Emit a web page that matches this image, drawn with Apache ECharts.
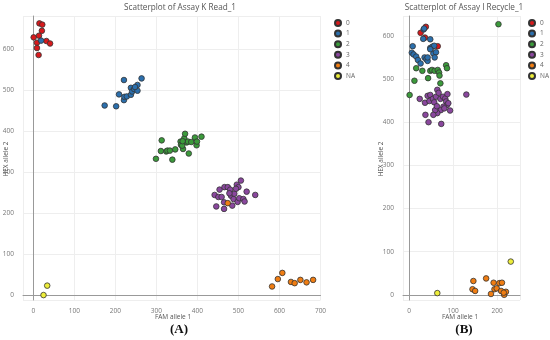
<!DOCTYPE html>
<html><head><meta charset="utf-8">
<script src="https://cdn.jsdelivr.net/npm/echarts@6/dist/echarts.min.js"></script>
<style>html,body{margin:0;padding:0;background:#fff}#c{width:550px;height:340px}</style>
</head><body><div id="c"></div>
<script>
var groups = ['0','1','2','3','4','NA'];
var colors = ['#d7191c','#2b6fad','#3b9a3b','#8a479e','#f07d12','#eded3a'];

var titleA = 'Scatterplot of Assay K Read_1';
var titleB = 'Scatterplot of Assay I Recycle_1';
var xName = 'FAM allele 1', yName = 'HEX allele 2';
var panelA = '(A)', panelB = '(B)';

var a0 = [[15,662],[22,659],[21,644],[1,628],[14,632],[9,615],[32,619],[41,613],[9,602],[13,585]];
var a1 = [[19,620],[174,462],[202,460],[209,489],[221,524],[221,475],[222,483],[228,484],[238,488],[238,505],[241,496],[246,502],[254,512],[254,498],[264,528],[248,507]];
var a2 = [[299,332],[311,351],[313,377],[324,350],[327,352],[333,352],[339,330],[346,355],[359,374],[360,366],[365,356],[363,364],[368,382],[370,393],[374,372],[379,345],[377,374],[385,373],[394,384],[398,365],[399,374],[410,386],[364,375]];
var a3 = [[442,244],[454,257],[446,216],[451,239],[459,239],[465,210],[466,263],[474,263],[465,226],[480,257],[482,242],[485,218],[488,234],[490,247],[496,269],[500,263],[494,259],[498,227],[502,236],[506,279],[512,234],[515,228],[520,252],[541,244],[478,248]];
var a4 = [[474,224],[582,21],[596,39],[607,54],[628,32],[637,29],[651,37],[666,31],[682,37]];
var aNA = [[25,0],[34,23]];

var b0 = [[38,621],[26,607],[65,576],[36,596]];
var b1 = [[33,615],[8,576],[6,561],[10,557],[16,552],[20,544],[26,536],[32,593],[48,592],[48,572],[53,575],[35,550],[39,546],[42,542],[42,550],[55,559],[61,562],[58,550],[57,577],[48,569],[34,617]];
var b2 = [[203,627],[1,463],[12,496],[16,525],[30,519],[43,502],[48,519],[52,521],[58,519],[65,521],[68,515],[69,508],[71,490],[84,532],[86,525]];
var b3 = [[24,454],[36,445],[42,461],[48,463],[46,449],[54,454],[57,446],[61,459],[64,475],[67,468],[71,454],[77,459],[82,455],[87,465],[84,448],[86,440],[89,444],[93,427],[78,436],[72,428],[64,421],[59,428],[55,417],[37,417],[44,400],[73,396],[130,464],[63,437],[80,432]];
var b4 = [[146,32],[144,13],[150,9],[175,38],[192,28],[194,13],[199,15],[205,27],[211,28],[186,2],[209,9],[216,0],[220,7],[215,5]];
var bNA = [[64,4],[231,77]];

var dataA = [a0,a1,a2,a3,a4,aNA];
var dataB = [b0,b1,b2,b3,b4,bNA];

var FONT = '"Open Sans", "Liberation Sans", sans-serif';

function xAxis(gi, min, max, sn) {
  return {
    type: 'value', gridIndex: gi, min: min, max: max, splitNumber: sn,
    axisLine: {show: true, onZero: true, lineStyle: {color: '#999', width: 1}},
    axisTick: {show: false},
    axisLabel: {color: '#777', fontSize: 6.5, fontFamily: FONT, margin: 8, showMinLabel: false, showMaxLabel: gi === 0},
    splitLine: {show: true, lineStyle: {color: '#eeeeee', width: 1}}
  };
}
function yAxis(gi, min, max) {
  return {
    type: 'value', gridIndex: gi, min: min, max: max, splitNumber: 6,
    axisLine: {show: true, onZero: true, lineStyle: {color: '#999', width: 1}},
    axisTick: {show: false},
    axisLabel: {color: '#777', fontSize: 6.5, fontFamily: FONT, margin: 9, showMinLabel: false, showMaxLabel: false},
    splitLine: {show: true, lineStyle: {color: '#eeeeee', width: 1}}
  };
}

var series = [];
[dataA, dataB].forEach(function (set, gi) {
  set.forEach(function (d, i) {
    series.push({
      type: 'scatter', name: groups[i], xAxisIndex: gi, yAxisIndex: gi,
      data: d, symbolSize: 5.6,
      itemStyle: {color: colors[i], borderColor: '#333', borderWidth: 0.8, opacity: 1}
    });
  });
});

function legend(left) {
  return {
    data: groups, orient: 'vertical', left: left, top: 19, padding: 0,
    itemWidth: 6, itemHeight: 6, itemGap: 2.6, icon: 'circle',
    textStyle: {color: '#666', fontSize: 6.5, fontFamily: FONT},
    selectedMode: false
  };
}

function txt(x, y, s, font, fill, rot) {
  return {type: 'text', x: x, y: y, rotation: rot || 0,
    style: {x: 0, y: 0, text: s, fill: fill, font: font, textAlign: 'center', textVerticalAlign: 'middle'}};
}

var chart = echarts.init(document.getElementById('c'), null, {renderer: 'canvas'});
chart.setOption({
  animation: false,
  backgroundColor: '#fff',
  grid: [
    {left: 23, top: 16, width: 297.5, height: 284, outerBoundsMode: 'none', containLabel: false},
    {left: 403, top: 16, width: 117, height: 284, outerBoundsMode: 'none', containLabel: false}
  ],
  xAxis: [xAxis(0, -25, 700, 7), xAxis(1, -14, 252, 2)],
  yAxis: [yAxis(0, -12, 680), yAxis(1, -12, 646)],
  legend: [legend(334), legend(528)],
  series: series,
  graphic: [
    txt(180, 8, titleA, '8.2px ' + FONT, '#555'),
    txt(464, 8, titleB, '8.2px ' + FONT, '#555'),
    txt(173, 317, xName, '6.5px ' + FONT, '#555'),
    txt(460, 317, xName, '6.5px ' + FONT, '#555'),
    txt(6, 159, yName, '6.5px ' + FONT, '#555', Math.PI / 2),
    txt(381, 159, yName, '6.5px ' + FONT, '#555', Math.PI / 2),
    txt(179, 330, panelA, 'bold 13px "Liberation Serif", "DejaVu Serif", serif', '#111'),
    txt(464, 330, panelB, 'bold 13px "Liberation Serif", "DejaVu Serif", serif', '#111')
  ]
});
</script>
</body></html>
